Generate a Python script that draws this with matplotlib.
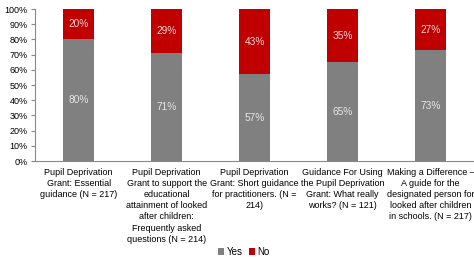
import matplotlib.pyplot as plt
import numpy as np

plt.rcParams['font.family'] = ['Liberation Sans', 'DejaVu Sans']

categories = [
    "Pupil Deprivation\nGrant: Essential\nguidance (N = 217)",
    "Pupil Deprivation\nGrant to support the\neducational\nattainment of looked\nafter children:\nFrequently asked\nquestions (N = 214)",
    "Pupil Deprivation\nGrant: Short guidance\nfor practitioners. (N =\n214)",
    "Guidance For Using\nthe Pupil Deprivation\nGrant: What really\nworks? (N = 121)",
    "Making a Difference \u2013\nA guide for the\ndesignated person for\nlooked after children\nin schools. (N = 217)",
]
yes = [80, 71, 57, 65, 73]
no = [20, 29, 43, 35, 27]

grey = "#808080"
red = "#C00000"

fig = plt.figure(figsize=(4.74, 2.59), dpi=100)
ax = fig.add_axes([0.073, 0.378, 0.928, 0.587])

x = np.arange(len(categories))
w = 0.35
ax.bar(x, yes, w, color=grey, label="Yes")
ax.bar(x, no, w, bottom=yes, color=red, label="No")

for i in range(len(x)):
    ax.text(x[i], yes[i] / 2, f"{yes[i]}%", ha="center", va="center",
            color="#e6e6e6", fontsize=7.3)
    ax.text(x[i], yes[i] + no[i] / 2, f"{no[i]}%", ha="center", va="center",
            color="#f4d4d4", fontsize=7.3)

ax.set_xlim(-0.5, len(x) - 0.5)
ax.set_ylim(0, 100)
ax.set_yticks(range(0, 101, 10))
ax.set_yticklabels([f"{v}%" for v in range(0, 101, 10)], fontsize=6.5)
ax.set_xticks(x)
ax.set_xticklabels(categories, fontsize=6.5, linespacing=1.3, va="top")
ax.tick_params(axis="x", length=0, pad=5)
ax.tick_params(axis="y", length=3, color="#888888", pad=2)
for s in ["top", "right"]:
    ax.spines[s].set_visible(False)
ax.spines["left"].set_color("#888888")
ax.spines["bottom"].set_color("#888888")

fig.legend(*ax.get_legend_handles_labels(), loc="center",
           bbox_to_anchor=(0.515, 1 - 252 / 259), ncol=2, frameon=False,
           fontsize=7, handlelength=0.6, handleheight=0.6, handletextpad=0.3,
           columnspacing=0.6, borderpad=0.1)

fig.savefig("out.png", dpi=100)
